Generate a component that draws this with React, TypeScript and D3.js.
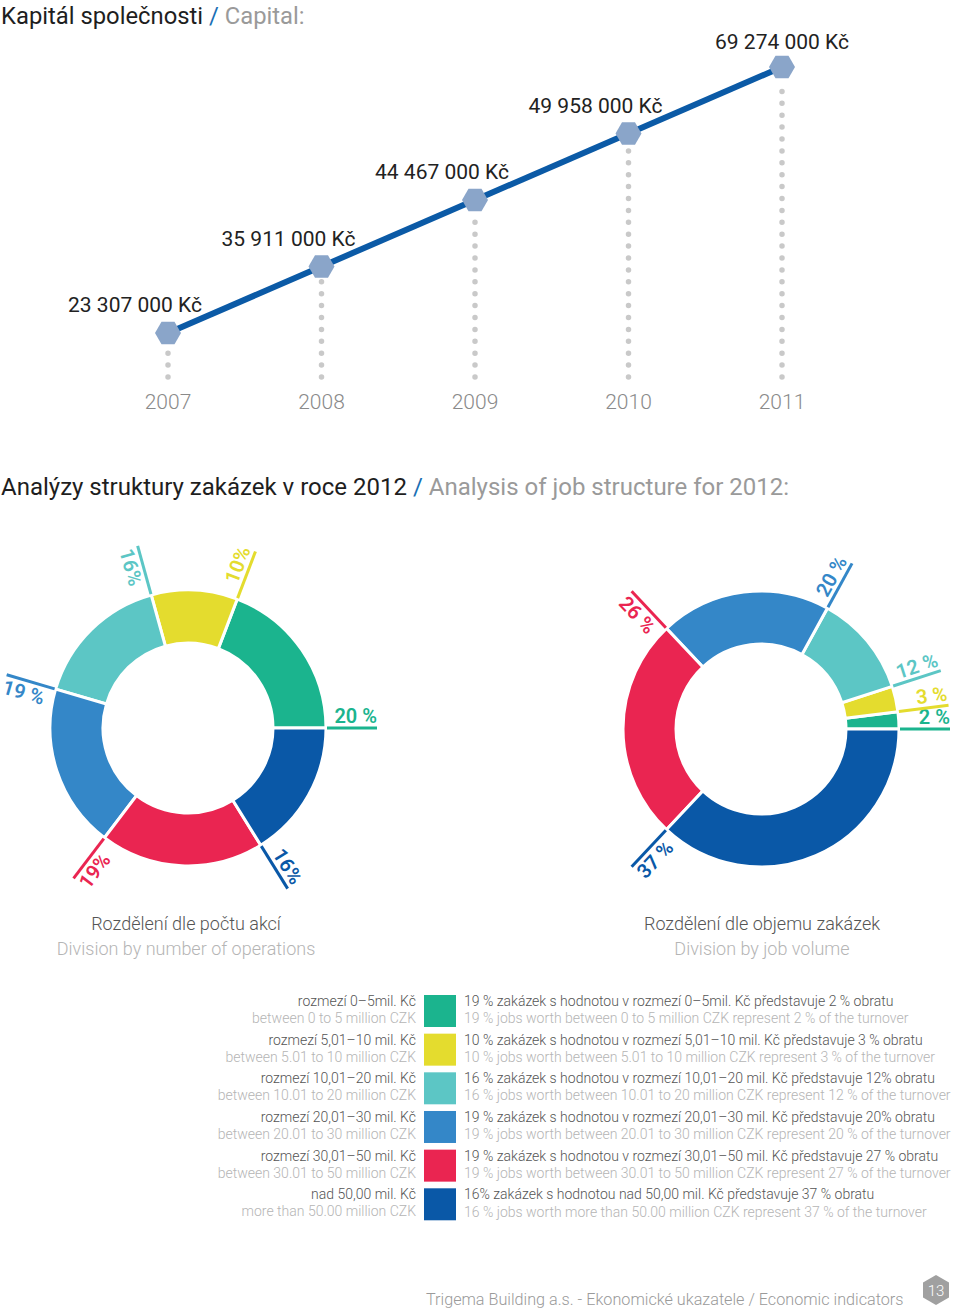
import React from "react";
import * as d3 from "d3";

const years = ["2007", "2008", "2009", "2010", "2011"];
const capital = [23307000, 35911000, 44467000, 49958000, 69274000];

const segmentKeys = ["0-5", "5-10", "10-20", "20-30", "30-50", "50+"];
const segmentColors = ["#1bb48e", "#e4dc2e", "#5cc6c5", "#3487c8", "#ea2551", "#0a58a7"];
const countShare = [19, 10, 16, 19, 19, 16];
const countLabels = ["20 %", "10%", "16%", "19 %", "19%", "16%"];
const volumeShare = [2, 3, 12, 20, 26, 37];
const volumeLabels = ["2 %", "3 %", "12 %", "20 %", "26 %", "37 %"];

const legendLeftCz = [
  "rozmezí 0–5mil. Kč",
  "rozmezí 5,01–10 mil. Kč",
  "rozmezí 10,01–20 mil. Kč",
  "rozmezí 20,01–30 mil. Kč",
  "rozmezí 30,01–50 mil. Kč",
  "nad 50,00 mil. Kč",
];
const legendLeftEn = [
  "between 0 to 5 million CZK",
  "between 5.01 to 10 million CZK",
  "between 10.01 to 20 million CZK",
  "between 20.01 to 30 million CZK",
  "between 30.01 to 50 million CZK",
  "more than 50.00 million CZK",
];
const legendRightCz = [
  "19 % zakázek s hodnotou v rozmezí 0–5mil. Kč představuje 2 % obratu",
  "10 % zakázek s hodnotou v rozmezí 5,01–10 mil. Kč představuje 3 % obratu",
  "16 % zakázek s hodnotou v rozmezí 10,01–20 mil. Kč představuje 12% obratu",
  "19 % zakázek s hodnotou v rozmezí 20,01–30 mil. Kč představuje 20% obratu",
  "19 % zakázek s hodnotou v rozmezí 30,01–50 mil. Kč představuje 27 % obratu",
  "16% zakázek s hodnotou nad 50,00 mil. Kč představuje 37 % obratu",
];
const legendRightEn = [
  "19 % jobs worth between 0 to 5 million CZK represent 2 % of the turnover",
  "10 % jobs worth between 5.01 to 10 million CZK represent 3 % of the turnover",
  "16 % jobs worth between 10.01 to 20 million CZK represent 12 % of the turnover",
  "19 % jobs worth between 20.01 to 30 million CZK represent 20 % of the turnover",
  "19 % jobs worth between 30.01 to 50 million CZK represent 27 % of the turnover",
  "16 % jobs worth more than 50.00 million CZK represent 37 % of the turnover",
];

const FONT = "Roboto, 'Open Sans', sans-serif";
const INNER = 85;
const OUTER = 138;
const LEADER = 51;

function hexPath(cx: number, cy: number, r: number, pointyTop: boolean) {
  const pts: [number, number][] = [];
  for (let i = 0; i < 6; i++) {
    const a = (Math.PI / 3) * i + (pointyTop ? Math.PI / 6 : 0);
    pts.push([cx + r * Math.cos(a), cy + r * Math.sin(a)]);
  }
  return "M" + pts.map((p) => p.join(",")).join("L") + "Z";
}

function Donut({ cx, cy, values, labels }: { cx: number; cy: number; values: number[]; labels: string[] }) {
  const pie = d3
    .pie<number>()
    .sort(null)
    .value((d) => d)
    .startAngle(Math.PI / 2)
    .endAngle(Math.PI / 2 - 2 * Math.PI);
  const arcs = pie(values);
  const arc = d3.arc<d3.PieArcDatum<number>>().innerRadius(INNER).outerRadius(OUTER);
  const TAU = Math.PI * 2;
  return (
    <g>
      <g transform={`translate(${cx},${cy})`}>
        {arcs.map((a, i) => (
          <path key={i} d={arc(a) || ""} fill={segmentColors[i]} stroke="#fff" strokeWidth={3} />
        ))}
      </g>
      {arcs.map((a, i) => {
        const th = ((a.startAngle % TAU) + TAU) % TAU;
        const sx = cx + (OUTER + 1) * Math.sin(th);
        const sy = cy - (OUTER + 1) * Math.cos(th);
        const ex = cx + (OUTER + LEADER) * Math.sin(th);
        const ey = cy - (OUTER + LEADER) * Math.cos(th);
        const phi = (th * 180) / Math.PI - 90;
        const rightHalf = th <= Math.PI;
        const rot = rightHalf ? phi : phi - 180;
        return (
          <g key={i}>
            <line x1={sx} y1={sy} x2={ex} y2={ey} stroke={segmentColors[i]} strokeWidth={3} />
            <text
              transform={`translate(${ex},${ey}) rotate(${rot})`}
              textAnchor={rightHalf ? "end" : "start"}
              dy={rightHalf ? -5 : 19}
              fill={segmentColors[i]}
              fontFamily={FONT}
              fontWeight={600}
              fontSize={20}
            >
              {labels[i]}
            </text>
          </g>
        );
      })}
    </g>
  );
}

export default function App() {
  const x = d3.scalePoint<string>().domain(years).range([168, 782]);
  const y = d3.scalePoint<string>().domain(years).range([333, 67]);
  const pts = years.map((yr, i) => ({ yr, v: capital[i], px: x(yr)!, py: y(yr)! }));
  const line = d3
    .line<{ px: number; py: number }>()
    .x((d) => d.px)
    .y((d) => d.py);
  const fmt = (v: number) => d3.format(",")(v).replace(/,/g, " ") + " Kč";

  const rows = d3.scaleBand<string>().domain(segmentKeys).range([995, 1220.3]).paddingInner(0.1724);
  const LEG = 14;

  return (
    <svg
      width={960}
      height={1309}
      style={{ position: "absolute", left: 0, top: 0, background: "#fff" }}
      fontFamily={FONT}
    >
      {/* Title 1 */}
      <text x={1} y={24} fontSize={23.8} fill="#1e1e1e" fontWeight={400}>
        Kapitál společnosti<tspan fill="#1a6fb5"> / </tspan>
        <tspan fill="#9a9a9a">Capital:</tspan>
      </text>

      {/* dotted drop lines */}
      {pts.map((p) => (
        <line
          key={"d" + p.yr}
          x1={p.px}
          x2={p.px}
          y1={377}
          y2={p.py + 14}
          stroke="#c9c9c9"
          strokeWidth={5.5}
          strokeLinecap="round"
          strokeDasharray="0 11.9"
        />
      ))}
      <path d={line(pts) || ""} fill="none" stroke="#0b5aa6" strokeWidth={6} />
      {pts.map((p) => (
        <path key={"h" + p.yr} d={hexPath(p.px, p.py, 13, false)} fill="#8aa5c9" />
      ))}
      {pts.map((p, i) => {
        const last = i === pts.length - 1;
        return (
          <text
            key={"l" + p.yr}
            x={last ? p.px : p.px + 34}
            y={last ? p.py - 18 : p.py - 21}
            textAnchor={last ? "middle" : "end"}
            fontSize={21}
            fill="#222"
          >
            {fmt(p.v)}
          </text>
        );
      })}
      {pts.map((p) => (
        <text key={"y" + p.yr} x={p.px} y={409} textAnchor="middle" fontSize={21} fontWeight={300} fill="#8a8a8a">
          {p.yr}
        </text>
      ))}

      {/* Title 2 */}
      <text x={1} y={495} fontSize={24} fill="#1e1e1e" fontWeight={400}>
        Analýzy struktury zakázek v roce 2012<tspan fill="#1a6fb5"> / </tspan>
        <tspan fill="#9a9a9a">Analysis of job structure for 2012:</tspan>
      </text>

      <Donut cx={188} cy={728} values={countShare} labels={countLabels} />
      <Donut cx={761} cy={729} values={volumeShare} labels={volumeLabels} />

      <text x={186} y={930} textAnchor="middle" fontSize={18} fontWeight={300} fill="#555">
        Rozdělení dle počtu akcí
      </text>
      <text x={186} y={955} textAnchor="middle" fontSize={18} fontWeight={300} fill="#b5b5b5">
        Division by number of operations
      </text>
      <text x={762} y={930} textAnchor="middle" fontSize={18} fontWeight={300} fill="#555">
        Rozdělení dle objemu zakázek
      </text>
      <text x={762} y={955} textAnchor="middle" fontSize={18} fontWeight={300} fill="#b5b5b5">
        Division by job volume
      </text>

      {/* Legend */}
      {segmentKeys.map((k, i) => {
        const top = rows(k)!;
        const bw = rows.bandwidth();
        return (
          <g key={"lg" + k}>
            <rect x={424} y={top} width={32} height={bw} fill={segmentColors[i]} />
            <text x={416} y={top + 11} textAnchor="end" fontSize={LEG} fontWeight={300} fill="#555">
              {legendLeftCz[i]}
            </text>
            <text x={416} y={top + 28} textAnchor="end" fontSize={LEG} fontWeight={300} fill="#b5b5b5">
              {legendLeftEn[i]}
            </text>
            <text x={464} y={top + 11} fontSize={LEG} fontWeight={300} fill="#555">
              {legendRightCz[i]}
            </text>
            <text x={464} y={top + (i === 5 ? 29 : 28)} fontSize={LEG} fontWeight={300} fill="#b5b5b5">
              {legendRightEn[i]}
            </text>
          </g>
        );
      })}

      {/* Footer */}
      <text x={426} y={1305} fontSize={16.2} fontWeight={300} fill="#9a9a9a">
        Trigema Building a.s. - Ekonomické ukazatele / Economic indicators
      </text>
      <path d={hexPath(936, 1290, 15, true)} fill="#a0a0a0" />
      <text x={936} y={1296} textAnchor="middle" fontSize={15} fontWeight={300} fill="#fff">
        13
      </text>
    </svg>
  );
}
